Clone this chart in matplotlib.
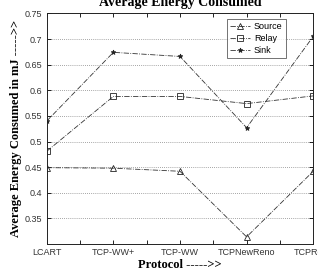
import matplotlib
matplotlib.use("Agg")
import matplotlib.pyplot as plt
import numpy as np

protocols = ["LCART", "TCP-WW+", "TCP-WW", "TCPNewReno", "TCPReno"]
source = [0.449, 0.448, 0.442, 0.314, 0.442]
relay = [0.481, 0.588, 0.588, 0.574, 0.589]
sink = [0.540, 0.674, 0.666, 0.527, 0.705]
yticks = [0.35, 0.4, 0.45, 0.5, 0.55, 0.6, 0.65, 0.7, 0.75]

sans = "Liberation Sans"
serif = "Liberation Serif"

fig = plt.figure(figsize=(3.18, 2.73), dpi=100)
ax = fig.add_axes([0.147, 0.106, 0.838, 0.845])

x = np.arange(1, len(protocols) + 1)
ax.plot(x, source, "-.", color="#333333", lw=0.6, marker="^", ms=4.5,
        mfc="none", mec="#222222", mew=0.6, label="Source")
ax.plot(x, relay, "-.", color="#333333", lw=0.6, marker="s", ms=4.5,
        mfc="none", mec="#222222", mew=0.6, label="Relay")
ax.plot(x, sink, "-.", color="#333333", lw=0.6, marker="*", ms=3.5,
        mfc="#222222", mec="#222222", mew=0.6, label="Sink")

ax.set_xlim(1, 5)
ax.set_ylim(0.3, 0.75)

# ticks every half step, labels on integers only
ax.set_xticks(np.arange(1, 5.01, 0.5))
ax.set_xticklabels([p if i % 2 == 0 else "" for i, p in
                    enumerate([v for name in protocols for v in (name, "")][:-1])])
ax.set_yticks(yticks)
ax.set_yticklabels([f"{v:g}" for v in yticks])
ax.tick_params(direction="in", length=3, width=0.6, top=True, right=True,
               labelsize=6.5, labelcolor="#333333", pad=3)
for lab in ax.get_xticklabels() + ax.get_yticklabels():
    lab.set_fontfamily(sans)

ax.yaxis.grid(True, linestyle=(0, (1, 1.5)), color="#888888", lw=0.6)
for s in ax.spines.values():
    s.set_linewidth(0.7)
    s.set_color("#222222")

ax.set_title("Average Energy Consumed", fontfamily=serif, fontweight="bold",
             fontsize=10, pad=5)
ax.set_xlabel("Protocol ----->>", fontfamily=serif, fontweight="bold",
              fontsize=9, labelpad=1.5)
ax.set_ylabel("Average Energy Consumed in mJ ----->>", fontfamily=serif,
              fontweight="bold", fontsize=9, labelpad=2)

leg = ax.legend(loc="upper right", bbox_to_anchor=(0.905, 0.985),
                prop={"family": sans, "size": 6.5}, frameon=True,
                fancybox=False, handlelength=2.2, handletextpad=0.4,
                borderpad=0.4, labelspacing=0.3, borderaxespad=0.2)
leg.get_frame().set_edgecolor("#333333")
leg.get_frame().set_linewidth(0.6)

fig.savefig("out.png", dpi=100)
